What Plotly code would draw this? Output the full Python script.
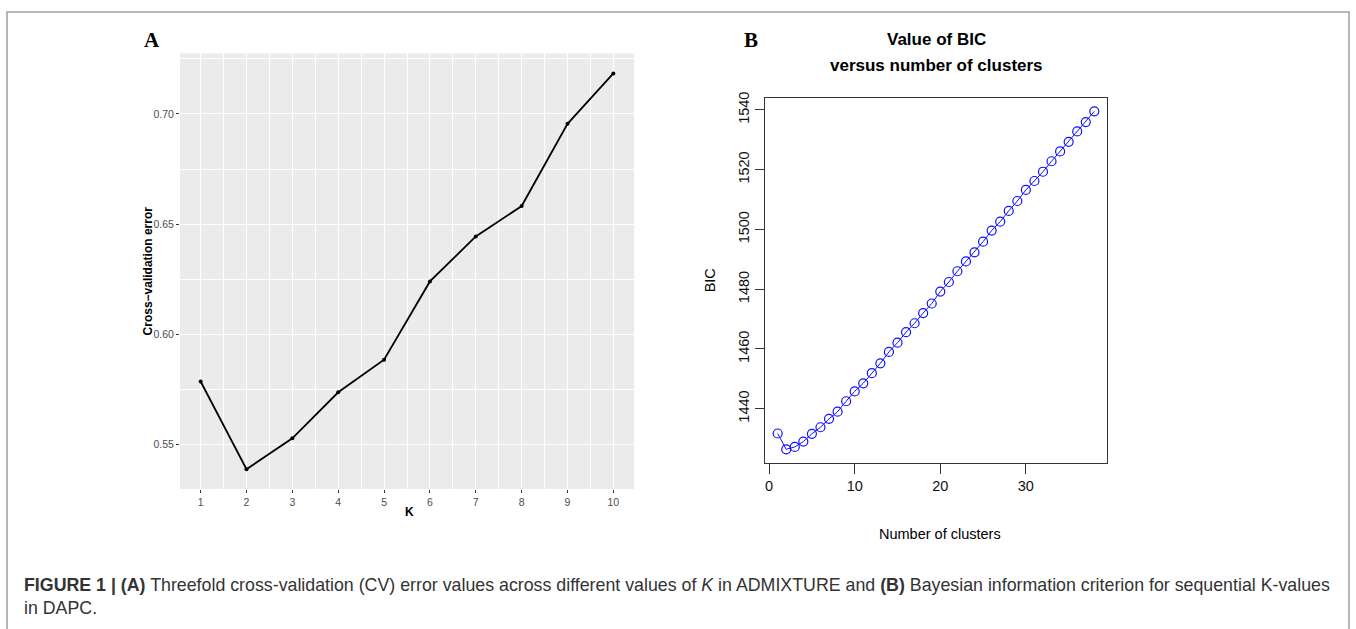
import plotly.graph_objects as go

W, H = 1356, 629

# Panel A data
k_values = [1, 2, 3, 4, 5, 6, 7, 8, 9, 10]
cv_error = [0.5786, 0.5388, 0.5528, 0.5737, 0.5885, 0.6240, 0.6444, 0.6582, 0.6955, 0.7184]
a_yticks = [0.55, 0.60, 0.65, 0.70]
a_yticklabels = ["0.55", "0.60", "0.65", "0.70"]

# Panel B data
n_clusters = list(range(1, 39))
bic_values = [1431.7, 1426.4, 1427.2, 1429.0, 1431.6, 1433.8, 1436.6, 1439.0, 1442.5, 1445.8,
              1448.5, 1451.9, 1455.2, 1459.0, 1462.1, 1465.6, 1468.6, 1472.0, 1475.2, 1479.2,
              1482.4, 1486.0, 1489.3, 1492.3, 1495.9, 1499.6, 1502.6, 1506.2, 1509.5, 1513.2,
              1516.2, 1519.3, 1522.8, 1526.1, 1529.3, 1532.8, 1535.9, 1539.5]
b_xticks = [0, 10, 20, 30]
b_yticks = [1440, 1460, 1480, 1500, 1520, 1540]


def px(x):
    return x / W


def py(y):
    return 1 - y / H


fig = go.Figure()

fig.add_trace(go.Scatter(
    x=k_values, y=cv_error, mode="lines+markers",
    line=dict(color="black", width=1.8),
    marker=dict(color="black", size=4),
    xaxis="x", yaxis="y", showlegend=False, hoverinfo="x+y"))

fig.add_trace(go.Scatter(
    x=n_clusters, y=bic_values, mode="lines+markers",
    line=dict(color="#1010FF", width=1),
    marker=dict(symbol="circle-open", color="#1010FF", size=9, line=dict(width=1.2, color="#1010FF")),
    xaxis="x2", yaxis="y2", showlegend=False, hoverinfo="x+y"))

sans = "Liberation Sans, Arial, sans-serif"
serif = "Liberation Serif, Times New Roman, serif"

fig.update_layout(
    width=W, height=H,
    margin=dict(l=0, r=0, t=0, b=0),
    paper_bgcolor="white",
    plot_bgcolor="white",
    font=dict(family=sans),
    xaxis=dict(
        domain=[px(180), px(634)], anchor="y",
        range=[0.55, 10.45],
        tickmode="array", tickvals=k_values, ticktext=[str(k) for k in k_values],
        ticks="outside", ticklen=3, tickwidth=1, tickcolor="#333333",
        tickfont=dict(size=10.5, color="#4D4D4D"),
        showgrid=True, gridcolor="white", gridwidth=1.1,
        minor=dict(tick0=0.5, dtick=1, showgrid=True, gridcolor="white", gridwidth=0.6, ticks=""),
        zeroline=False, showline=False),
    yaxis=dict(
        domain=[py(487.7), py(48)], anchor="x",
        range=[0.5298, 0.7274],
        tickmode="array", tickvals=a_yticks, ticktext=a_yticklabels,
        ticks="outside", ticklen=3, tickwidth=1, tickcolor="#333333",
        tickfont=dict(size=10.5, color="#4D4D4D"),
        showgrid=True, gridcolor="white", gridwidth=1.1,
        minor=dict(tick0=0.525, dtick=0.05, showgrid=True, gridcolor="white", gridwidth=0.6, ticks=""),
        zeroline=False, showline=False),
    xaxis2=dict(
        domain=[px(765), px(1107)], anchor="y2",
        range=[-0.48, 39.48],
        tickmode="array", tickvals=b_xticks, ticktext=[str(v) for v in b_xticks],
        ticks="outside", ticklen=10, tickwidth=1, tickcolor="#333333",
        tickfont=dict(size=14.5, color="#111111"),
        showgrid=False, zeroline=False,
        showline=True, mirror=True, linecolor="#333333", linewidth=1),
    yaxis2=dict(
        domain=[py(461.2), py(92.5)], anchor="x2",
        range=[1421.9, 1544.1],
        tickmode="array", tickvals=b_yticks, ticktext=[str(v) for v in b_yticks],
        tickangle=-90,
        ticks="outside", ticklen=9, tickwidth=1, tickcolor="#333333",
        tickfont=dict(size=14.5, color="#111111"),
        showgrid=False, zeroline=False,
        showline=True, mirror=True, linecolor="#333333", linewidth=1),
)

shapes = [
    # grey panel background for panel A
    dict(type="rect", xref="x domain", yref="y domain", x0=0, x1=1, y0=0, y1=1,
         fillcolor="#EBEBEB", line=dict(width=0), layer="below"),
    # outer figure frame
    dict(type="rect", xref="paper", yref="paper", x0=px(7), x1=px(1349), y0=-0.05, y1=py(6),
         fillcolor="rgba(0,0,0,0)", line=dict(color="#A0A0A0", width=1.5), layer="above"),
]
fig.update_layout(shapes=shapes)

ann = []


def add_text(text, x, y, size, color="black", family=sans, xanchor="center", yanchor="middle",
             angle=0, align="center"):
    ann.append(dict(text=text, x=px(x), y=py(y), xref="paper", yref="paper", showarrow=False,
                    font=dict(size=size, color=color, family=family), xanchor=xanchor,
                    yanchor=yanchor, textangle=angle, align=align))


add_text("<b>A</b>", 152, 34, 21, family=serif)
add_text("<b>B</b>", 751, 34, 21, family=serif)
add_text("<b>Cross\u2212validation error</b>", 148, 268, 12, color="black", angle=-90)
add_text("<b>K</b>", 409, 511, 12, color="black")
add_text("<b>Value of BIC</b>", 937, 34, 17)
add_text("<b>versus number of clusters</b>", 937, 60, 17)
add_text("BIC", 710, 277, 14.5, angle=-90)
add_text("Number of clusters", 940, 533, 14.5)

caption = ("<b>FIGURE 1 | (A)</b> Threefold cross-validation (CV) error values across different values of "
           "<i>K</i> in ADMIXTURE and <b>(B)</b> Bayesian information criterion for sequential K-values"
           "<br>in DAPC.")
ann.append(dict(text=caption, x=px(22), y=py(596.5), xref="paper", yref="paper", showarrow=False,
                font=dict(size=17.8, color="#333333", family=sans), xanchor="left", yanchor="middle",
                align="left"))

fig.update_layout(annotations=ann)

fig.write_html("out.html", config={"displayModeBar": False},
               post_script="document.body.style.margin='0px';document.body.style.overflow='hidden';")
